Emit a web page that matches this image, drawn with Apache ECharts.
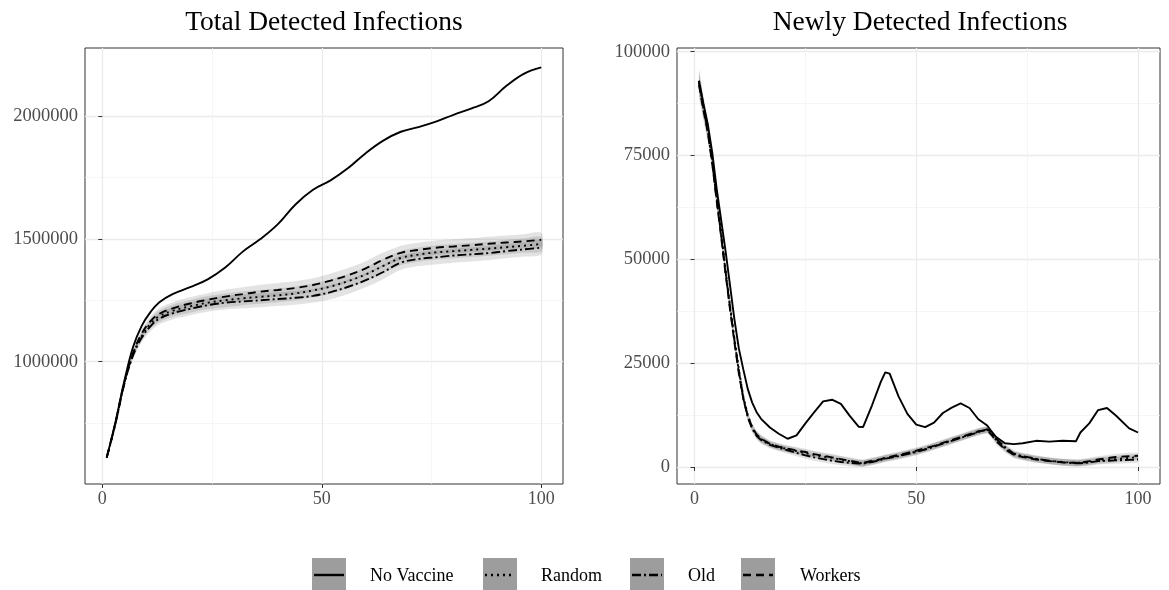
<!DOCTYPE html>
<html>
<head>
<meta charset="utf-8">
<script src="https://cdn.jsdelivr.net/npm/echarts@6/dist/echarts.min.js"></script>
<style>
  html, body { margin: 0; padding: 0; background: #fff; }
  #main { width: 1169px; height: 590px; }
</style>
</head>
<body>
<div id="main"></div>
<script>
// left panel: cumulative detected infections
const totalDays = [1,3,5,7,9,11,13,16,20,24,28,32,36,40,44,48,52,56,60,64,68,72,76,80,84,88,92,96,100];
const totalNoVaccine = [610000,755000,920000,1060000,1147000,1203000,1242000,1275000,1303000,1335000,1383000,1448000,1499000,1560000,1640000,1700000,1738000,1788000,1849000,1900000,1936000,1955000,1977000,2005000,2030000,2060000,2122000,2172000,2198000];
const totalRandom = [610000,750000,912000,1030000,1105000,1155000,1185000,1207000,1225000,1240000,1250000,1258000,1264000,1270000,1278000,1290000,1306000,1328000,1355000,1390000,1422000,1436000,1445000,1450000,1455000,1460000,1466000,1472000,1479000];
const totalOld = [610000,748000,908000,1025000,1098000,1145000,1175000,1197000,1215000,1230000,1240000,1245000,1250000,1255000,1260000,1268000,1283000,1305000,1332000,1365000,1403000,1418000,1425000,1432000,1437000,1442000,1450000,1457000,1464000];
const totalWorkers = [610000,752000,915000,1035000,1115000,1165000,1195000,1217000,1237000,1252000,1265000,1275000,1285000,1292000,1300000,1312000,1330000,1352000,1380000,1415000,1443000,1455000,1464000,1469000,1474000,1480000,1485000,1490000,1496000];
const totalSpread = [6000,9000,12000,15000,18000,21000,23000,25000,26000,27000,28000,28000,28000,28000,28000,28000,29000,29000,29000,29000,29000,29000,29000,29000,29000,29000,29000,29000,29000];

// right panel: new detected infections
const newDays = [1,2,3,4,5,6,7,8,9,10,11,12,13,14,15,17,19,21,23,25,27,29,31,33,35,37,38,40,42,43,44,46,48,50,52,54,56,58,60,62,64,66,67,68,70,72,74,77,80,83,86,87,89,91,93,95,98,100];
const newNoVaccine = [93000,87500,82500,75700,67000,59500,52000,43800,35500,28500,23500,18800,15500,13200,11600,9500,8000,6800,7600,10500,13200,15800,16200,15200,12300,9700,9600,14800,20500,22800,22500,17000,12800,10200,9600,10700,13000,14300,15300,14200,11500,10000,8500,7200,5700,5500,5700,6300,6100,6300,6200,8300,10500,13700,14200,12400,9300,8300];
const newRandom = [93000,87000,81500,74000,65000,56500,47500,39000,31000,23500,17000,12500,9500,7700,6700,5500,4800,4300,3800,3300,2900,2500,2200,1800,1400,1000,900,1300,1800,2100,2300,2700,3200,3700,4300,5000,5700,6400,7100,7800,8500,9000,8000,6500,4500,3000,2500,1900,1500,1200,1000,1000,1200,1500,1700,1900,2200,2400];
const newOld = [92500,86500,81000,73500,64500,56000,47000,38500,30500,23000,16500,12000,9200,7500,6500,5300,4600,4000,3400,2800,2300,1900,1500,1200,1000,800,800,1200,1700,2000,2200,2600,3100,3600,4200,4900,5600,6300,7000,7700,8400,9100,8300,6800,4800,3200,2600,2000,1500,1100,900,900,1100,1400,1500,1600,1700,1800];
const newWorkers = [92000,86000,80500,73000,64000,55500,46500,38000,30000,22500,16500,12300,9500,7800,6800,5600,4900,4400,4000,3600,3100,2700,2300,1900,1500,1100,1000,1500,1900,2200,2400,2900,3400,3900,4500,5100,5800,6500,7200,7900,8600,8900,7700,6200,4300,2900,2400,1800,1400,1100,1000,1100,1400,1800,2100,2400,2600,2700];
const newSpread = [3000,2500,2200,2000,1800,1600,1500,1400,1300,1200,1100,1000,900,900,900,800,800,800,800,800,800,800,800,800,800,800,800,800,800,800,800,800,800,800,800,800,800,800,800,800,800,800,800,800,800,800,800,800,800,800,800,800,800,800,800,800,800,800];

const xTicks = [0, 50, 100];
const xMinor = [25, 75];
const totalTicks = [1000000, 1500000, 2000000];
const totalMinor = [750000, 1250000, 1750000];
const newTicks = [0, 25000, 50000, 75000, 100000];
const newMinor = [12500, 37500, 62500, 87500];

const legendNames = ['No Vaccine', 'Random', 'Old', 'Workers'];

const FONT = 'Liberation Serif';
const dashes = {
  'No Vaccine': 'solid',
  'Random': [2, 4],
  'Old': [9, 3, 2, 3],
  'Workers': [8, 5]
};

const chart = echarts.init(document.getElementById('main'));

function pairs(days, vals) {
  return days.map((d, i) => [d, vals[i]]);
}

// confidence band as one polygon, placed through the axis scales
function ribbon(days, vals, spread, idx, smooth) {
  const rows = days.map((d, i) => [d, vals[i] - spread[i], vals[i] + spread[i]]);
  return {
    type: 'custom', xAxisIndex: idx * 2, yAxisIndex: idx * 2, silent: true, clip: true,
    data: rows,
    encode: { x: 0, y: [1, 2] },
    renderItem: function (params, api) {
      if (params.dataIndex !== 0) return null;
      const upper = rows.map(r => api.coord([r[0], r[2]]));
      const lower = rows.map(r => api.coord([r[0], r[1]])).reverse();
      return {
        type: 'polygon',
        shape: { points: upper.concat(lower), smooth: smooth },
        style: { fill: 'rgba(0,0,0,0.11)' }
      };
    }
  };
}

function line(name, days, vals, idx, smooth) {
  return {
    type: 'line', name: name, xAxisIndex: idx * 2, yAxisIndex: idx * 2,
    data: pairs(days, vals), symbol: 'none', smooth: smooth, silent: true,
    lineStyle: { color: '#000', width: 1.9, type: dashes[name] }
  };
}

function xAxes(grid) {
  return [
    {
      gridIndex: grid, type: 'value', min: -3.95, max: 104.95, position: 'bottom',
      axisLine: { show: false },
      axisTick: { customValues: xTicks, length: 4, lineStyle: { color: '#333', width: 1 } },
      axisLabel: { customValues: xTicks, color: '#4D4D4D', fontSize: 18, fontFamily: FONT, margin: 6 },
      splitLine: { show: true, lineStyle: { color: '#EBEBEB', width: 1.3 } }
    },
    {
      gridIndex: grid, type: 'value', min: -3.95, max: 104.95, position: 'top',
      axisLine: { show: false },
      axisTick: { show: false, customValues: xMinor },
      axisLabel: { show: false, customValues: xMinor },
      splitLine: { show: true, lineStyle: { color: '#F2F2F2', width: 0.7 } }
    }
  ];
}

function yAxes(grid, min, max, ticks, minor) {
  return [
    {
      gridIndex: grid, type: 'value', min: min, max: max, position: 'left',
      axisLine: { show: false },
      axisTick: { customValues: ticks, length: 4, lineStyle: { color: '#333', width: 1 } },
      axisLabel: { customValues: ticks, color: '#4D4D4D', fontSize: 18.5, fontFamily: FONT, margin: 7,
                   formatter: v => String(v) },
      splitLine: { show: true, lineStyle: { color: '#EBEBEB', width: 1.3 } }
    },
    {
      gridIndex: grid, type: 'value', min: min, max: max, position: 'right',
      axisLine: { show: false },
      axisTick: { show: false, customValues: minor },
      axisLabel: { show: false, customValues: minor },
      splitLine: { show: true, lineStyle: { color: '#F2F2F2', width: 0.7 } }
    }
  ];
}

const series = [
  ribbon(totalDays, totalRandom, totalSpread, 0, 0.3),
  ribbon(totalDays, totalOld, totalSpread, 0, 0.3),
  ribbon(totalDays, totalWorkers, totalSpread, 0, 0.3),
  ribbon(newDays, newRandom, newSpread, 1, 0),
  ribbon(newDays, newOld, newSpread, 1, 0),
  ribbon(newDays, newWorkers, newSpread, 1, 0),
  line('No Vaccine', totalDays, totalNoVaccine, 0, 0.4),
  line('Random', totalDays, totalRandom, 0, 0.4),
  line('Old', totalDays, totalOld, 0, 0.4),
  line('Workers', totalDays, totalWorkers, 0, 0.4),
  line('No Vaccine', newDays, newNoVaccine, 1, false),
  line('Random', newDays, newRandom, 1, false),
  line('Old', newDays, newOld, 1, false),
  line('Workers', newDays, newWorkers, 1, false)
];

// legend keys drawn as graphic: grey box with the line pattern inside
const keyX = [312, 483, 630, 741];
const textX = [370, 541, 688, 800];
const legendGraphic = [];
legendNames.forEach((name, i) => {
  legendGraphic.push({
    type: 'rect', shape: { x: keyX[i], y: 558, width: 34, height: 33 },
    style: { fill: '#9D9D9D' }, silent: true
  });
  legendGraphic.push({
    type: 'line', shape: { x1: keyX[i] + 2, y1: 575, x2: keyX[i] + 32, y2: 575 },
    style: { stroke: '#000', lineWidth: 2.4, lineDash: dashes[name] === 'solid' ? null : dashes[name] },
    silent: true
  });
  legendGraphic.push({
    type: 'text', x: textX[i], y: 576,
    style: { text: name, fill: '#000', font: '18px "' + FONT + '"', textVerticalAlign: 'middle', textAlign: 'left' },
    silent: true
  });
});

chart.setOption({
  animation: false,
  backgroundColor: '#fff',
  title: [
    { text: 'Total Detected Infections', left: 324, top: 9, textAlign: 'center', padding: 0,
      textStyle: { fontFamily: FONT, fontSize: 27.5, fontWeight: 'normal', color: '#000' } },
    { text: 'Newly Detected Infections', left: 920, top: 9, textAlign: 'center', padding: 0,
      textStyle: { fontFamily: FONT, fontSize: 27.5, fontWeight: 'normal', color: '#000' } }
  ],
  grid: [
    { left: 85, top: 48, width: 478, height: 436, show: true, borderColor: '#333', borderWidth: 1 },
    { left: 677, top: 48, width: 483, height: 436, show: true, borderColor: '#333', borderWidth: 1 }
  ],
  xAxis: [].concat(xAxes(0), xAxes(1)),
  yAxis: [].concat(
    yAxes(0, 502000, 2277000, totalTicks, totalMinor),
    yAxes(1, -4100, 100900, newTicks, newMinor)
  ),
  series: series,
  graphic: legendGraphic
});
</script>
</body>
</html>
